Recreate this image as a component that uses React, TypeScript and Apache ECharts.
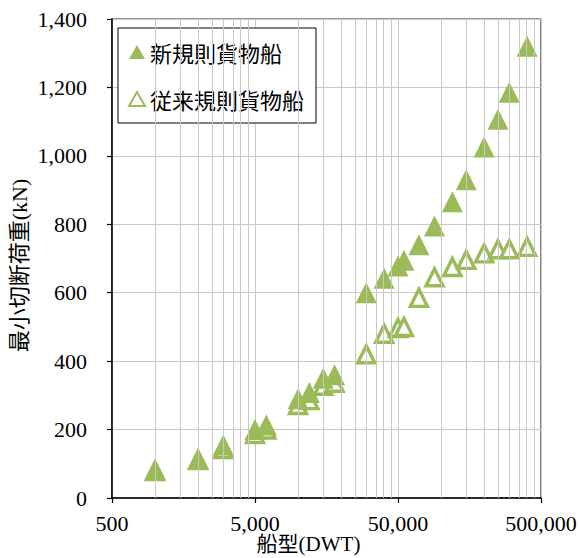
import React, { useEffect, useRef } from "react";
import * as echarts from "echarts";

// Ship size (DWT)
const DWT = [1000, 2000, 3000, 5000, 6000, 10000, 12000, 15000, 18000, 30000, 40000, 50000, 55000, 70000, 90000, 120000, 150000, 200000, 250000, 300000, 400000];
// Minimum breaking load (kN)
const NEW_RULE = [80, 112, 155, 200, 213, 290, 308, 350, 360, 600, 642, 678, 695, 740, 795, 866, 930, 1026, 1107, 1186, 1320];
const OLD_RULE = [80, 112, 143, 187, 200, 272, 286, 328, 337, 420, 480, 497, 500, 585, 645, 675, 696, 715, 727, 727, 734];

const SERIES_NAMES = ["新規則貨物船", "従来規則貨物船"];
const X_TICKS = [500, 5000, 50000, 500000];
const Y_TICKS = [0, 200, 400, 600, 800, 1000, 1200, 1400];
const X_TITLE = "船型(DWT)";
const Y_TITLE = "最小切断荷重(kN)";

const GREEN = "#9BBB59";
const GRID = "#C8C8C8";
const SERIF = "'Liberation Serif', 'Times New Roman', 'Noto Sans CJK JP', serif";
const BASE = X_TICKS[0];
const toX = (v: number) => Math.log10(v / BASE);

export default function App() {
  const ref = useRef<HTMLDivElement>(null);
  useEffect(() => {
    if (!ref.current) return;
    const chart = echarts.init(ref.current, null, { renderer: "svg" });
    const minor: number[] = [];
    for (let d = 0; d < X_TICKS.length - 1; d++) {
      for (let k = 2; k <= 9; k++) minor.push(X_TICKS[d] * k);
    }
    chart.setOption({
      animation: false,
      backgroundColor: "#fff",
      grid: {
        left: 112, right: 38, top: 19, bottom: 60,
        containLabel: false,
        outerBoundsMode: "none",
        show: true, borderColor: "#333", borderWidth: 1.2, backgroundColor: "transparent",
      },
      legend: {
        data: SERIES_NAMES,
        orient: "vertical",
        left: 118,
        top: 28,
        padding: [13, 12, 13, 10],
        itemGap: 25,
        itemWidth: 16,
        itemHeight: 14,
        borderColor: "#000",
        borderWidth: 1,
        backgroundColor: "#fff",
        textStyle: { fontFamily: "'Noto Sans CJK JP', sans-serif", fontSize: 22, color: "#000" },
      },
      xAxis: {
        type: "value",
        min: 0,
        max: toX(X_TICKS[X_TICKS.length - 1]),
        interval: 1,
        name: X_TITLE,
        nameLocation: "middle",
        nameGap: 35,
        nameMoveOverlap: false,
        nameTextStyle: { fontFamily: SERIF, fontSize: 21, lineHeight: 22, color: "#000", padding: [0, 36, 0, 0] },
        axisLine: { lineStyle: { color: "#000", width: 1.5 } },
        axisTick: { show: true, inside: false, length: 5, lineStyle: { color: "#000", width: 1.2 } },
        axisLabel: {
          margin: 14,
          fontFamily: SERIF,
          fontSize: 22,
          color: "#000",
          formatter: (v: number) => Math.round(BASE * Math.pow(10, v)).toLocaleString("en-US"),
        },
        splitLine: { show: true, lineStyle: { color: GRID, width: 1 } },
      },
      yAxis: {
        type: "value",
        min: Y_TICKS[0],
        max: Y_TICKS[Y_TICKS.length - 1],
        interval: 200,
        name: Y_TITLE,
        nameLocation: "middle",
        nameGap: 82,
        nameMoveOverlap: false,
        nameTextStyle: { fontFamily: SERIF, fontSize: 22, color: "#000", padding: [0, 14, 0, 0] },
        axisLine: { show: true, lineStyle: { color: "#000", width: 1.5 } },
        axisTick: { show: true, inside: false, length: 5, lineStyle: { color: "#000", width: 1.2 } },
        axisLabel: {
          margin: 25,
          fontFamily: SERIF,
          fontSize: 22,
          color: "#000",
          formatter: (v: number) => v.toLocaleString("en-US"),
        },
        splitLine: { show: true, lineStyle: { color: GRID, width: 1 } },
      },
      series: [
        {
          name: "_minor",
          type: "scatter",
          data: [],
          z: 1,
          silent: true,
          markLine: {
            silent: true,
            symbol: ["none", "none"],
            label: { show: false },
            lineStyle: { color: GRID, width: 1, type: "solid" },
            emphasis: { disabled: true },
            data: minor.map((v) => ({ xAxis: toX(v) })),
          },
        },
        {
          name: SERIES_NAMES[1],
          type: "scatter",
          symbol: "triangle",
          symbolSize: 17,
          z: 3,
          itemStyle: { color: "#fff", borderColor: GREEN, borderWidth: 3.4, opacity: 1 },
          data: DWT.map((d, i) => [toX(d), OLD_RULE[i]]),
        },
        {
          name: SERIES_NAMES[0],
          type: "scatter",
          symbol: "triangle",
          symbolSize: 21,
          z: 4,
          itemStyle: { color: GREEN, opacity: 1 },
          data: DWT.map((d, i) => [toX(d), NEW_RULE[i]]),
        },
      ],
    });
    return () => chart.dispose();
  }, []);
  return <div ref={ref} style={{ position: "absolute", left: 0, top: 0, width: 579, height: 558 }} />;
}
